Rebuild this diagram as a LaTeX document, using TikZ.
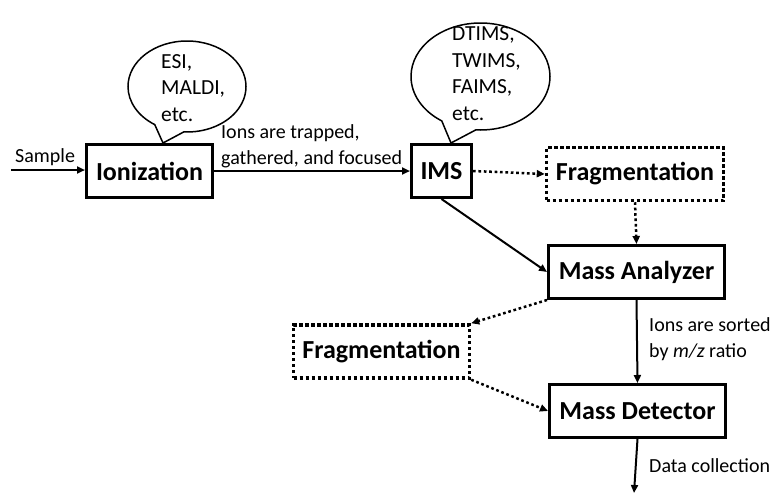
\documentclass[tikz,border=0pt]{standalone}
\usepackage{fontspec}
\setmainfont{Carlito}
\usetikzlibrary{arrows.meta,shapes.callouts}
\begin{document}
\begin{tikzpicture}[x=1pt,y=-1pt,
  box/.style={draw,line width=3pt,minimum width=176pt,minimum height=53pt,inner sep=0pt,font=\fontsize{26}{30}\selectfont\bfseries},
  dotbox/.style={box,line width=3.5pt,dash pattern=on 3.3pt off 2.7pt},
  arr/.style={line width=2pt,-{Triangle[length=8pt,width=7pt]}},
  dotarr/.style={line width=2.5pt,dash pattern=on 2.7pt off 2.7pt,-{Triangle[length=8pt,width=7pt]}},
  lbl/.style={font=\fontsize{20}{26}\selectfont,inner sep=0pt,align=left},
  bubble/.style={ellipse callout,draw,line width=1.5pt,inner sep=0pt,callout pointer arc=30},
  btext/.style={font=\fontsize{21.5}{26.5}\selectfont,inner sep=0pt,align=left}]
\useasboundingbox (0,0) rectangle (773,493);
% boxes
\node[box,minimum width=126pt] (ion) at (149.5,171) {Ionization};
\node[box,minimum width=60pt] (ims) at (441.5,171) {IMS};
\node[dotbox,minimum width=177pt] (frag1) at (635,174) {Fragmentation};
\node[box] (ma) at (636.5,272) {Mass Analyzer};
\node[dotbox] (frag2) at (381.5,351.5) {Fragmentation};
\node[box] (md) at (637.5,411) {Mass Detector};
% bubbles
\node[bubble,minimum width=118pt,minimum height=91pt,callout absolute pointer={(163,143)}] (b1) at (187,86.5) {};
\node[btext,anchor=base west] (t1) at (161,121) {ESI,\\MALDI,\\etc.};
\node[bubble,minimum width=139pt,minimum height=107pt,callout absolute pointer={(451,143)}] (b2) at (480.5,76.5) {};
\node[btext,anchor=base west] (t2) at (452,120) {DTIMS,\\TWIMS,\\FAIMS,\\etc.};
% connectors
\coordinate (in) at (11,170);
\coordinate (out) at (634,493);
\draw[arr] (in) -- (ion.west |- in);
\node[lbl,anchor=base west] (sample) at (15,162) {Sample};
\draw[arr] (ion.east) -- (ims.west);
\node[lbl,anchor=base west] (trap) at (221,164) {Ions are trapped,\\gathered, and focused};
\draw[dotarr] (ims.east) -- (frag1.west);
\draw[dotarr] (frag1.south) -- (ma.north);
\draw[arr] (ims.south) -- (ma.west);
\draw[arr] (ma.south) -- (md.north);
\node[lbl,anchor=base west] (sort) at (649,357) {Ions are sorted\\by \emph{m/z} ratio};
\draw[dotarr] (ma.south west) -- (frag2.north east);
\draw[dotarr] (frag2.south east) -- (md.west);
\draw[arr] (md.south) -- (out);
\node[lbl,anchor=base west] (data) at (649,472) {Data collection};
\end{tikzpicture}
\end{document}
